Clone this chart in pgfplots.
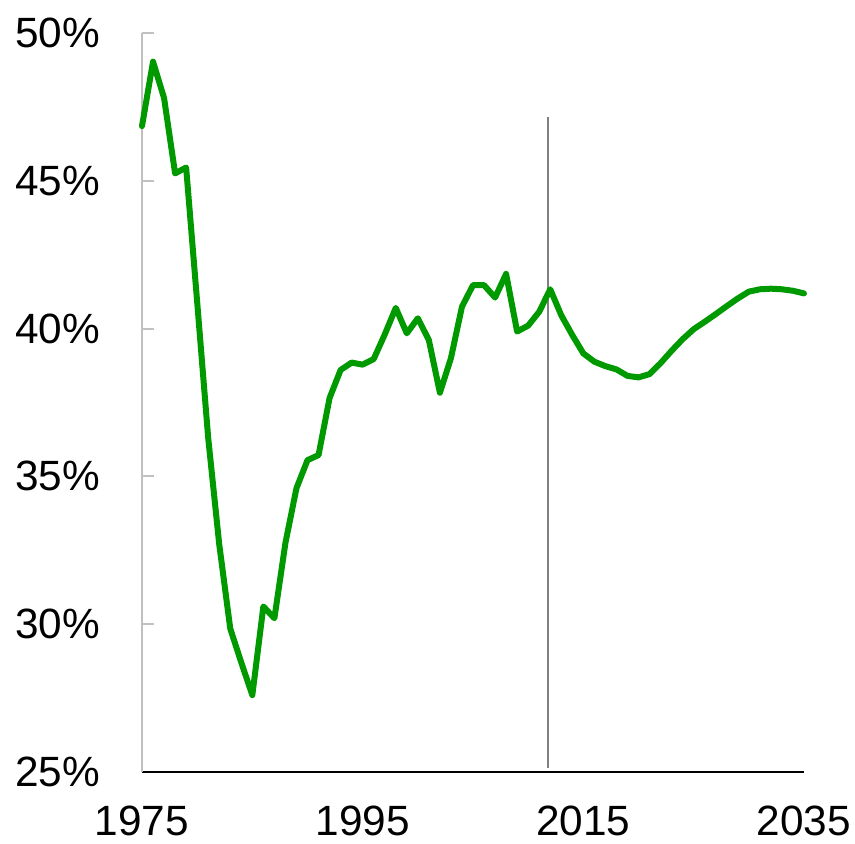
\documentclass[border=0pt]{standalone}
\usepackage{fontspec}
\setmainfont{Liberation Sans}
\usepackage{pgfplots}
\pgfplotsset{compat=1.18}
\definecolor{lineGreen}{HTML}{009900}
\definecolor{axGray}{HTML}{C0C0C0}
\definecolor{vGray}{HTML}{808080}
\begin{document}
\begin{tikzpicture}
\begin{axis}[
  scale only axis,
  width=662bp, height=739bp,
  xmin=1975, xmax=2035, ymin=25, ymax=50,
  clip=false,
  axis x line*=bottom, axis y line*=left,
  x axis line style={-, black, line width=1.6bp},
  y axis line style={-, axGray, line width=2bp},
  xtick={1975,1995,2015,2035},
  ytick={25,30,35,40,45,50},
  major x tick style={draw=none},
  major y tick style={axGray, line width=2bp},
  tick align=inside,
  major tick length=12bp,
  /pgf/number format/assume math mode=true,
  /pgf/number format/1000 sep={},
  ticklabel style={font=\fontsize{42.5}{50}\selectfont, inner sep=0pt},
  xticklabel style={anchor=north, yshift=-34bp},
  yticklabel style={anchor=east, xshift=-42bp},
  yticklabel={\pgfmathprintnumber{\tick}\%},
]
\addplot[vGray, line width=1.8bp] coordinates {(2011.8,25.15) (2011.8,47.15)};
\addplot[lineGreen, line width=6bp, line join=round, line cap=round] coordinates {
(1975,46.85) (1976,49.03) (1977,47.8) (1978,45.25) (1979,45.45)
(1980,40.9) (1981,36.3) (1982,32.7) (1983,29.85) (1984,28.7)
(1985,27.6) (1986,30.6) (1987,30.2) (1988,32.75) (1989,34.6)
(1990,35.55) (1991,35.72) (1992,37.65) (1993,38.6) (1994,38.85)
(1995,38.78) (1996,38.97) (1997,39.8) (1998,40.7) (1999,39.84)
(2000,40.35) (2001,39.61) (2002,37.83) (2003,39.0) (2004,40.74)
(2005,41.47) (2006,41.47) (2007,41.05) (2008,41.85) (2009,39.9)
(2010,40.1) (2011,40.57) (2012,41.33) (2013,40.45) (2014,39.78)
(2015,39.16) (2016,38.88) (2017,38.73) (2018,38.62) (2019,38.40)
(2020,38.35) (2021,38.46) (2022,38.83) (2023,39.25) (2024,39.64)
(2025,39.98) (2026,40.23) (2027,40.49) (2028,40.76) (2029,41.02)
(2030,41.25) (2031,41.33) (2032,41.35) (2033,41.33) (2034,41.28)
(2035,41.19)
};
\end{axis}
\pgfresetboundingbox
\path (-142bp,-72bp) rectangle (713bp,772bp);
\end{tikzpicture}
\end{document}
